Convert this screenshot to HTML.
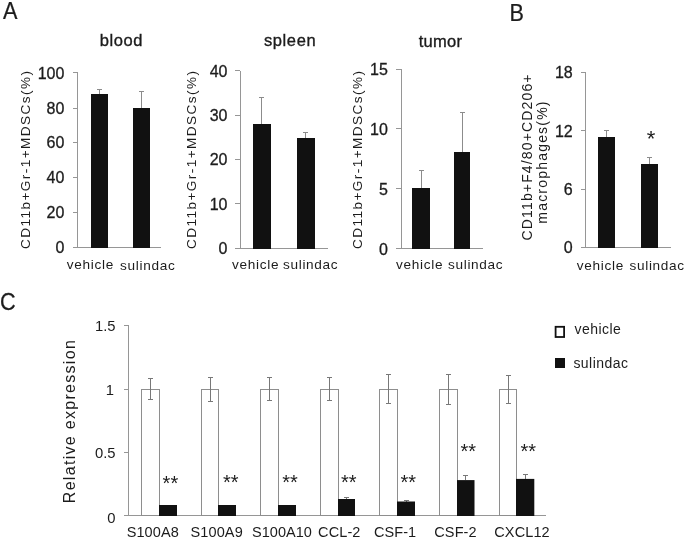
<!DOCTYPE html>
<html lang="en">
<head>
<meta charset="utf-8">
<title>Figure</title>
<style>
html,body{margin:0;padding:0;background:#fff;}
body{width:685px;height:539px;overflow:hidden;}
svg{display:block;will-change:transform;opacity:0.999;filter:blur(0.35px);font-family:"Liberation Sans", Arial, sans-serif;}
.t{stroke:#1c1c1c;stroke-width:0.35px;}
.p{stroke:#1c1c1c;stroke-width:0.25px;}
.k{stroke:#1c1c1c;stroke-width:0.3px;}
</style>
</head>
<body>
<svg width="685" height="539" viewBox="0 0 685 539">
<rect x="0" y="0" width="685" height="539" fill="#ffffff"/>
<text transform="translate(3.1 18.7) scale(0.88 1)" font-size="24.6" fill="#1c1c1c" class="p">A</text>
<text transform="translate(509.6 21.0) scale(0.9 1)" font-size="24" fill="#1c1c1c" class="p">B</text>
<text transform="translate(0.0 310.3) scale(0.92 1)" font-size="23.5" fill="#1c1c1c" class="p">C</text>
<text x="121.4" y="46.3" font-size="16.5" text-anchor="middle" letter-spacing="0.6" fill="#1c1c1c" class="t">blood</text>
<line x1="77.5" y1="73.0" x2="77.5" y2="247.0" stroke="#969696" stroke-width="1"/>
<line x1="73.0" y1="247.5" x2="161.0" y2="247.5" stroke="#969696" stroke-width="1"/>
<text x="64.4" y="253.3" font-size="16" text-anchor="end" fill="#1c1c1c" class="k">0</text>
<line x1="73.0" y1="212.5" x2="78.0" y2="212.5" stroke="#969696" stroke-width="1"/>
<text x="64.4" y="218.2" font-size="16" text-anchor="end" fill="#1c1c1c" class="k">20</text>
<line x1="73.0" y1="177.5" x2="78.0" y2="177.5" stroke="#969696" stroke-width="1"/>
<text x="64.4" y="183.2" font-size="16" text-anchor="end" fill="#1c1c1c" class="k">40</text>
<line x1="73.0" y1="142.5" x2="78.0" y2="142.5" stroke="#969696" stroke-width="1"/>
<text x="64.4" y="148.2" font-size="16" text-anchor="end" fill="#1c1c1c" class="k">60</text>
<line x1="73.0" y1="108.5" x2="78.0" y2="108.5" stroke="#969696" stroke-width="1"/>
<text x="64.4" y="114.2" font-size="16" text-anchor="end" fill="#1c1c1c" class="k">80</text>
<line x1="73.0" y1="72.5" x2="78.0" y2="72.5" stroke="#969696" stroke-width="1"/>
<text x="64.4" y="78.6" font-size="16" text-anchor="end" fill="#1c1c1c" class="k">100</text>
<line x1="99.5" y1="89.0" x2="99.5" y2="94.0" stroke="#8c8c8c" stroke-width="1"/>
<line x1="97.0" y1="89.5" x2="102.0" y2="89.5" stroke="#8c8c8c" stroke-width="1"/>
<line x1="141.5" y1="92.0" x2="141.5" y2="108.0" stroke="#8c8c8c" stroke-width="1"/>
<line x1="139.0" y1="91.5" x2="144.0" y2="91.5" stroke="#8c8c8c" stroke-width="1"/>
<rect x="91.0" y="94.0" width="17.0" height="154.0" fill="#111111"/>
<rect x="133.0" y="108.0" width="17.0" height="140.0" fill="#111111"/>
<text x="66.8" y="268.9" font-size="13.6" letter-spacing="0.68" fill="#1c1c1c">vehicle</text>
<text x="120.1" y="270.2" font-size="13.6" letter-spacing="0.68" fill="#1c1c1c">sulindac</text>
<text x="30.0" y="248.9" font-size="13.6" letter-spacing="1.42" transform="rotate(-90 30.0 248.9)" fill="#1c1c1c">CD11b+Gr-1+MDSCs(%)</text>
<text x="290.1" y="46.3" font-size="16.5" text-anchor="middle" letter-spacing="0.6" fill="#1c1c1c" class="t">spleen</text>
<line x1="240.5" y1="71.0" x2="240.5" y2="248.0" stroke="#969696" stroke-width="1"/>
<line x1="235.0" y1="248.5" x2="328.0" y2="248.5" stroke="#969696" stroke-width="1"/>
<text x="227.5" y="254.0" font-size="16" text-anchor="end" fill="#1c1c1c" class="k">0</text>
<line x1="235.0" y1="203.5" x2="240.0" y2="203.5" stroke="#969696" stroke-width="1"/>
<text x="227.5" y="209.7" font-size="16" text-anchor="end" fill="#1c1c1c" class="k">10</text>
<line x1="235.0" y1="159.5" x2="240.0" y2="159.5" stroke="#969696" stroke-width="1"/>
<text x="227.5" y="165.4" font-size="16" text-anchor="end" fill="#1c1c1c" class="k">20</text>
<line x1="235.0" y1="115.5" x2="240.0" y2="115.5" stroke="#969696" stroke-width="1"/>
<text x="227.5" y="121.1" font-size="16" text-anchor="end" fill="#1c1c1c" class="k">30</text>
<line x1="235.0" y1="70.5" x2="240.0" y2="70.5" stroke="#969696" stroke-width="1"/>
<text x="227.5" y="76.7" font-size="16" text-anchor="end" fill="#1c1c1c" class="k">40</text>
<line x1="261.5" y1="98.0" x2="261.5" y2="124.0" stroke="#8c8c8c" stroke-width="1"/>
<line x1="259.0" y1="97.5" x2="264.0" y2="97.5" stroke="#8c8c8c" stroke-width="1"/>
<line x1="305.5" y1="132.0" x2="305.5" y2="138.0" stroke="#8c8c8c" stroke-width="1"/>
<line x1="303.0" y1="132.5" x2="308.0" y2="132.5" stroke="#8c8c8c" stroke-width="1"/>
<rect x="253.0" y="124.0" width="18.0" height="125.0" fill="#111111"/>
<rect x="297.0" y="138.0" width="18.0" height="111.0" fill="#111111"/>
<text x="232.1" y="268.9" font-size="13.6" letter-spacing="0.68" fill="#1c1c1c">vehicle</text>
<text x="283.0" y="268.9" font-size="13.6" letter-spacing="0.68" fill="#1c1c1c">sulindac</text>
<text x="195.8" y="248.9" font-size="13.6" letter-spacing="1.42" transform="rotate(-90 195.8 248.9)" fill="#1c1c1c">CD11b+Gr-1+MDSCs(%)</text>
<text x="440.5" y="47.0" font-size="16.5" text-anchor="middle" letter-spacing="0.3" fill="#1c1c1c" class="t">tumor</text>
<line x1="401.5" y1="69.0" x2="401.5" y2="249.0" stroke="#969696" stroke-width="1"/>
<line x1="396.0" y1="248.5" x2="483.0" y2="248.5" stroke="#969696" stroke-width="1"/>
<text x="387.9" y="254.6" font-size="16" text-anchor="end" fill="#1c1c1c" class="k">0</text>
<line x1="396.0" y1="188.5" x2="401.0" y2="188.5" stroke="#969696" stroke-width="1"/>
<text x="387.9" y="194.8" font-size="16" text-anchor="end" fill="#1c1c1c" class="k">5</text>
<line x1="396.0" y1="128.5" x2="401.0" y2="128.5" stroke="#969696" stroke-width="1"/>
<text x="387.9" y="135.0" font-size="16" text-anchor="end" fill="#1c1c1c" class="k">10</text>
<line x1="396.0" y1="69.5" x2="401.0" y2="69.5" stroke="#969696" stroke-width="1"/>
<text x="387.9" y="75.1" font-size="16" text-anchor="end" fill="#1c1c1c" class="k">15</text>
<line x1="421.5" y1="171.0" x2="421.5" y2="188.0" stroke="#8c8c8c" stroke-width="1"/>
<line x1="419.0" y1="170.5" x2="424.0" y2="170.5" stroke="#8c8c8c" stroke-width="1"/>
<line x1="462.5" y1="113.0" x2="462.5" y2="152.0" stroke="#8c8c8c" stroke-width="1"/>
<line x1="460.0" y1="112.5" x2="465.0" y2="112.5" stroke="#8c8c8c" stroke-width="1"/>
<rect x="412.0" y="188.0" width="18.0" height="61.0" fill="#111111"/>
<rect x="454.0" y="152.0" width="16.0" height="97.0" fill="#111111"/>
<text x="396.1" y="269.2" font-size="13.6" letter-spacing="0.68" fill="#1c1c1c">vehicle</text>
<text x="448.0" y="269.2" font-size="13.6" letter-spacing="0.68" fill="#1c1c1c">sulindac</text>
<text x="362.3" y="248.9" font-size="13.6" letter-spacing="1.42" transform="rotate(-90 362.3 248.9)" fill="#1c1c1c">CD11b+Gr-1+MDSCs(%)</text>
<line x1="585.5" y1="72.0" x2="585.5" y2="247.0" stroke="#969696" stroke-width="1"/>
<line x1="581.0" y1="247.5" x2="671.0" y2="247.5" stroke="#969696" stroke-width="1"/>
<text x="572.7" y="253.3" font-size="16" text-anchor="end" fill="#1c1c1c" class="k">0</text>
<line x1="581.0" y1="189.5" x2="586.0" y2="189.5" stroke="#969696" stroke-width="1"/>
<text x="572.7" y="195.0" font-size="16" text-anchor="end" fill="#1c1c1c" class="k">6</text>
<line x1="581.0" y1="130.5" x2="586.0" y2="130.5" stroke="#969696" stroke-width="1"/>
<text x="572.7" y="136.7" font-size="16" text-anchor="end" fill="#1c1c1c" class="k">12</text>
<line x1="581.0" y1="72.5" x2="586.0" y2="72.5" stroke="#969696" stroke-width="1"/>
<text x="572.7" y="78.4" font-size="16" text-anchor="end" fill="#1c1c1c" class="k">18</text>
<line x1="606.5" y1="130.0" x2="606.5" y2="137.0" stroke="#8c8c8c" stroke-width="1"/>
<line x1="604.0" y1="130.5" x2="609.0" y2="130.5" stroke="#8c8c8c" stroke-width="1"/>
<line x1="649.5" y1="157.0" x2="649.5" y2="164.0" stroke="#8c8c8c" stroke-width="1"/>
<line x1="647.0" y1="157.5" x2="652.0" y2="157.5" stroke="#8c8c8c" stroke-width="1"/>
<rect x="598.0" y="137.0" width="17.0" height="111.0" fill="#111111"/>
<rect x="641.0" y="164.0" width="17.0" height="84.0" fill="#111111"/>
<text x="576.8" y="269.8" font-size="13.6" letter-spacing="0.68" fill="#1c1c1c">vehicle</text>
<text x="629.5" y="269.8" font-size="13.6" letter-spacing="0.68" fill="#1c1c1c">sulindac</text>
<text x="532.0" y="156.9" font-size="14" text-anchor="middle" letter-spacing="1.15" transform="rotate(-90 532.0 156.9)" fill="#1c1c1c">CD11b+F4/80+CD206+</text>
<text x="547.2" y="162.0" font-size="14" text-anchor="middle" letter-spacing="1.2" transform="rotate(-90 547.2 162.0)" fill="#1c1c1c">macrophages(%)</text>
<text x="651.0" y="146.2" font-size="22" text-anchor="middle" fill="#1c1c1c">*</text>
<line x1="128.5" y1="326.0" x2="128.5" y2="516.0" stroke="#969696" stroke-width="1"/>
<line x1="124.0" y1="515.5" x2="546.0" y2="515.5" stroke="#969696" stroke-width="1"/>
<text x="115.5" y="522.6" font-size="14.8" text-anchor="end" fill="#1c1c1c">0</text>
<line x1="124.0" y1="452.5" x2="129.0" y2="452.5" stroke="#969696" stroke-width="1"/>
<text x="115.5" y="458.3" font-size="14.8" text-anchor="end" fill="#1c1c1c">0.5</text>
<line x1="124.0" y1="389.5" x2="129.0" y2="389.5" stroke="#969696" stroke-width="1"/>
<text x="113.9" y="395.3" font-size="14.8" text-anchor="end" fill="#1c1c1c">1</text>
<line x1="124.0" y1="325.5" x2="129.0" y2="325.5" stroke="#969696" stroke-width="1"/>
<text x="115.5" y="331.3" font-size="14.8" text-anchor="end" fill="#1c1c1c">1.5</text>
<rect x="141.5" y="389.5" width="18" height="126.0" fill="#fff" stroke="#8e8e8e" stroke-width="1"/>
<line x1="150.5" y1="379.0" x2="150.5" y2="400.0" stroke="#787878" stroke-width="1"/>
<line x1="148.0" y1="378.5" x2="153.0" y2="378.5" stroke="#787878" stroke-width="1"/>
<line x1="148.0" y1="399.5" x2="153.0" y2="399.5" stroke="#787878" stroke-width="1"/>
<rect x="159" y="505.0" width="18.0" height="11.0" fill="#111111"/>
<text x="162.6" y="490.3" font-size="20" fill="#1c1c1c">**</text>
<rect x="201.5" y="389.5" width="17" height="126.0" fill="#fff" stroke="#8e8e8e" stroke-width="1"/>
<line x1="210.5" y1="378.0" x2="210.5" y2="401.0" stroke="#787878" stroke-width="1"/>
<line x1="208.0" y1="377.5" x2="213.0" y2="377.5" stroke="#787878" stroke-width="1"/>
<line x1="208.0" y1="401.5" x2="213.0" y2="401.5" stroke="#787878" stroke-width="1"/>
<rect x="218" y="505.0" width="18.0" height="11.0" fill="#111111"/>
<text x="222.9" y="489.0" font-size="20" fill="#1c1c1c">**</text>
<rect x="260.5" y="389.5" width="18" height="126.0" fill="#fff" stroke="#8e8e8e" stroke-width="1"/>
<line x1="269.5" y1="377.0" x2="269.5" y2="400.0" stroke="#787878" stroke-width="1"/>
<line x1="267.0" y1="377.5" x2="272.0" y2="377.5" stroke="#787878" stroke-width="1"/>
<line x1="267.0" y1="400.5" x2="272.0" y2="400.5" stroke="#787878" stroke-width="1"/>
<rect x="278" y="505.0" width="18.0" height="11.0" fill="#111111"/>
<text x="282.2" y="489.3" font-size="20" fill="#1c1c1c">**</text>
<rect x="320.5" y="389.5" width="18" height="126.0" fill="#fff" stroke="#8e8e8e" stroke-width="1"/>
<line x1="329.5" y1="378.0" x2="329.5" y2="401.0" stroke="#787878" stroke-width="1"/>
<line x1="327.0" y1="377.5" x2="332.0" y2="377.5" stroke="#787878" stroke-width="1"/>
<line x1="327.0" y1="400.5" x2="332.0" y2="400.5" stroke="#787878" stroke-width="1"/>
<line x1="346.5" y1="498.0" x2="346.5" y2="499.0" stroke="#787878" stroke-width="1"/>
<line x1="344.0" y1="497.5" x2="349.0" y2="497.5" stroke="#787878" stroke-width="1"/>
<rect x="338" y="499.0" width="17.0" height="17.0" fill="#111111"/>
<text x="341.0" y="489.3" font-size="20" fill="#1c1c1c">**</text>
<rect x="379.5" y="389.5" width="18" height="126.0" fill="#fff" stroke="#8e8e8e" stroke-width="1"/>
<line x1="388.5" y1="374.0" x2="388.5" y2="404.0" stroke="#787878" stroke-width="1"/>
<line x1="386.0" y1="374.5" x2="391.0" y2="374.5" stroke="#787878" stroke-width="1"/>
<line x1="386.0" y1="403.5" x2="391.0" y2="403.5" stroke="#787878" stroke-width="1"/>
<line x1="406.5" y1="501.0" x2="406.5" y2="502.0" stroke="#787878" stroke-width="1"/>
<line x1="404.0" y1="500.5" x2="409.0" y2="500.5" stroke="#787878" stroke-width="1"/>
<rect x="397" y="501.5" width="18.0" height="14.5" fill="#111111"/>
<text x="400.5" y="489.3" font-size="20" fill="#1c1c1c">**</text>
<rect x="439.5" y="389.5" width="18" height="126.0" fill="#fff" stroke="#8e8e8e" stroke-width="1"/>
<line x1="448.5" y1="374.0" x2="448.5" y2="404.0" stroke="#787878" stroke-width="1"/>
<line x1="446.0" y1="374.5" x2="451.0" y2="374.5" stroke="#787878" stroke-width="1"/>
<line x1="446.0" y1="404.5" x2="451.0" y2="404.5" stroke="#787878" stroke-width="1"/>
<line x1="465.5" y1="476.0" x2="465.5" y2="480.0" stroke="#787878" stroke-width="1"/>
<line x1="463.0" y1="475.5" x2="468.0" y2="475.5" stroke="#787878" stroke-width="1"/>
<rect x="457" y="480.1" width="17.5" height="35.9" fill="#111111"/>
<text x="460.4" y="458.4" font-size="20" fill="#1c1c1c">**</text>
<rect x="499.5" y="389.5" width="17" height="126.0" fill="#fff" stroke="#8e8e8e" stroke-width="1"/>
<line x1="508.5" y1="375.0" x2="508.5" y2="404.0" stroke="#787878" stroke-width="1"/>
<line x1="506.0" y1="375.5" x2="511.0" y2="375.5" stroke="#787878" stroke-width="1"/>
<line x1="506.0" y1="403.5" x2="511.0" y2="403.5" stroke="#787878" stroke-width="1"/>
<line x1="525.5" y1="475.0" x2="525.5" y2="479.0" stroke="#787878" stroke-width="1"/>
<line x1="523.0" y1="474.5" x2="528.0" y2="474.5" stroke="#787878" stroke-width="1"/>
<rect x="516" y="478.9" width="18.3" height="37.1" fill="#111111"/>
<text x="520.4" y="458.4" font-size="20" fill="#1c1c1c">**</text>
<text x="126.7" y="537.0" font-size="14.5" letter-spacing="0.1" fill="#1c1c1c">S100A8</text>
<text x="190.6" y="537.0" font-size="14.5" letter-spacing="0.1" fill="#1c1c1c">S100A9</text>
<text x="252.1" y="537.0" font-size="14.5" fill="#1c1c1c">S100A10</text>
<text x="318.1" y="537.0" font-size="14.5" letter-spacing="0.1" fill="#1c1c1c">CCL-2</text>
<text x="373.9" y="537.0" font-size="14.5" letter-spacing="0.1" fill="#1c1c1c">CSF-1</text>
<text x="434.3" y="537.0" font-size="14.5" letter-spacing="0.1" fill="#1c1c1c">CSF-2</text>
<text x="494.3" y="537.0" font-size="14.5" letter-spacing="0.1" fill="#1c1c1c">CXCL12</text>
<text x="75.3" y="503.2" font-size="16" letter-spacing="1.3" transform="rotate(-90 75.3 503.2)" fill="#1c1c1c">Relative expression</text>
<rect x="555.6" y="326.8" width="8.5" height="10.2" fill="#fff" stroke="#111" stroke-width="1.8"/>
<rect x="555.0" y="358.0" width="10.0" height="10.0" fill="#111111"/>
<text x="574.5" y="334.3" font-size="14" letter-spacing="0.45" fill="#1c1c1c">vehicle</text>
<text x="573.4" y="367.5" font-size="14" letter-spacing="0.45" fill="#1c1c1c">sulindac</text>
</svg>
</body>
</html>
